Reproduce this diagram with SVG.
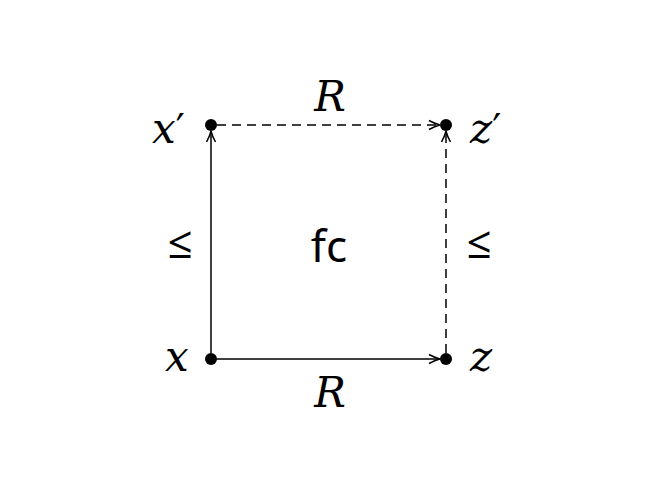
<svg xmlns="http://www.w3.org/2000/svg" width="659" height="496" viewBox="0 0 659 496">
<style>
.m{font-family:"DejaVu Serif","Liberation Serif",serif;font-style:italic;font-size:42px;fill:#000}
.p{font-family:"DejaVu Sans","Liberation Sans",sans-serif;font-style:normal;font-size:40px}
.s{font-family:"Noto Sans","Open Sans",sans-serif;font-size:44px;fill:#000}
.e{stroke:#000;stroke-width:1.5;fill:none}
.d{stroke-dasharray:9 6}
</style>
<defs>
<marker id="ah" viewBox="0 0 12 12" refX="12" refY="6" markerWidth="12" markerHeight="12" markerUnits="userSpaceOnUse" orient="auto">
<path d="M1,1.5 Q7,4.8 12,6 Q7,7.2 1,10.5" stroke="#000" stroke-width="1.5" fill="none"/>
</marker>
</defs>
<rect width="659" height="496" fill="#fff"/>
<g id="edges">
<line class="e d" x1="217" y1="125" x2="440" y2="125" marker-end="url(#ah)"/>
<line class="e" x1="217" y1="359" x2="440" y2="359" marker-end="url(#ah)"/>
<line class="e" x1="211" y1="353" x2="211" y2="131" marker-end="url(#ah)"/>
<line class="e d" x1="446" y1="353" x2="446" y2="131" marker-end="url(#ah)"/>
<text class="m" x="330" y="111" text-anchor="middle">R</text>
<text class="m" x="330" y="407" text-anchor="middle">R</text>
<text class="s" x="180" y="258" text-anchor="middle">≤</text>
<text class="s" x="479" y="258" text-anchor="middle">≤</text>
</g>
<g id="node-xp"><circle cx="211" cy="125" r="6"/><text class="m" x="152" y="143">x<tspan class="p">′</tspan></text></g>
<g id="node-zp"><circle cx="446" cy="125" r="6"/><text class="m" x="470" y="143">z<tspan class="p">′</tspan></text></g>
<g id="node-x"><circle cx="211" cy="359" r="6"/><text class="m" x="165" y="371">x</text></g>
<g id="node-z"><circle cx="446" cy="359" r="6"/><text class="m" x="470" y="371">z</text></g>
<g id="center"><text class="s" x="329" y="262" text-anchor="middle">fc</text></g>
</svg>
